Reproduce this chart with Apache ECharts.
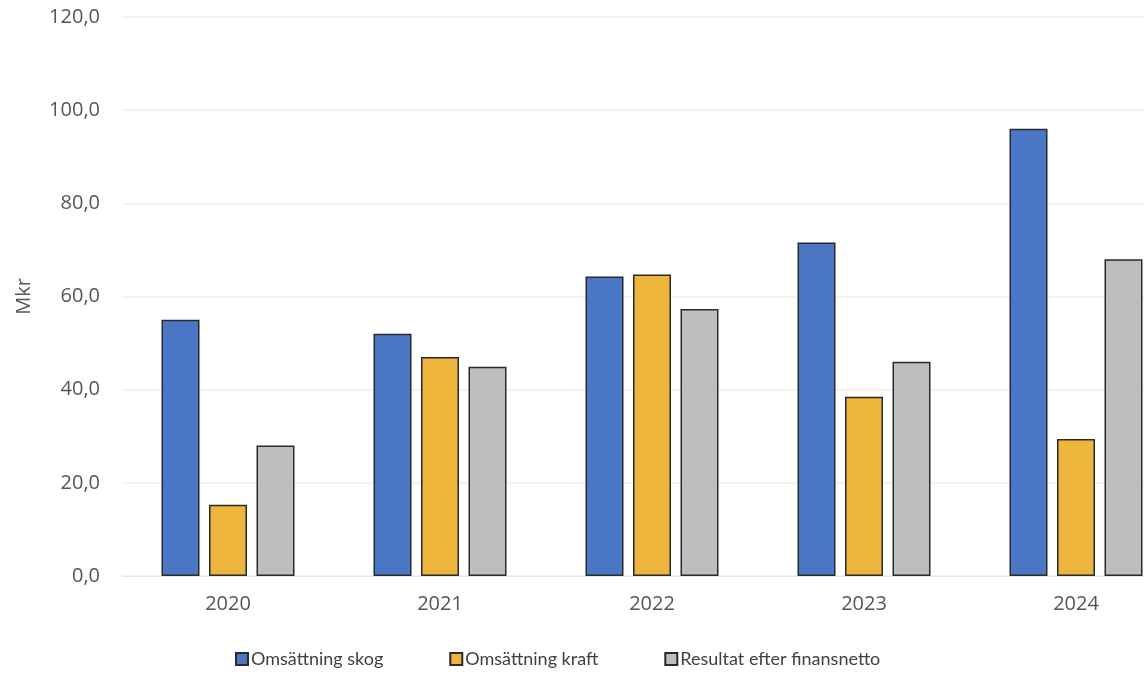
<!DOCTYPE html>
<html>
<head>
<meta charset="utf-8">
<script src="https://cdn.jsdelivr.net/npm/echarts@6/dist/echarts.min.js"></script>
<style>
html,body{margin:0;padding:0;background:#fff;}
#c{width:1144px;height:677px;}
</style>
</head>
<body>
<div id="c"></div>
<script>
const categories = ['2020', '2021', '2022', '2023', '2024'];
const omsattningSkog = [55.0, 52.0, 64.3, 71.6, 96.0];
const omsattningKraft = [15.3, 47.0, 64.7, 38.5, 29.4];
const resultatEfterFinansnetto = [28.0, 44.9, 57.3, 46.0, 68.0];
const seriesNames = ['Omsättning skog', 'Omsättning kraft', 'Resultat efter finansnetto'];
const yTicks = { min: 0, max: 120, interval: 20 };

const FONT = 'Lato, "Open Sans", sans-serif';
const AXFONT = '"Open Sans", sans-serif';
const chart = echarts.init(document.getElementById('c'), null, { renderer: 'canvas' });
const colors = ['#4A76C6', '#EDB53C', '#BEBEBE'];
const border = '#2a2a2a';
const data = [omsattningSkog, omsattningKraft, resultatEfterFinansnetto];

chart.setOption({
  animation: false,
  backgroundColor: '#ffffff',
  grid: { left: 122, top: 17, width: 1060, height: 559, containLabel: false, outerBoundsMode: 'none' },
  legend: {
    left: 230,
    top: 645,
    itemWidth: 12,
    itemHeight: 12,
    itemGap: 66,
    icon: 'rect',
    textStyle: { fontFamily: FONT, fontSize: 18, color: '#404040', padding: [0, 0, 0, -2] },
    data: seriesNames
  },
  xAxis: {
    type: 'category',
    data: categories,
    axisLine: { show: true, lineStyle: { color: '#e6e6e6', width: 1 } },
    axisTick: { show: false },
    axisLabel: { fontFamily: AXFONT, fontSize: 20, color: '#555555', margin: 18 }
  },
  yAxis: {
    type: 'value',
    min: yTicks.min,
    max: yTicks.max,
    interval: yTicks.interval,
    name: 'Mkr',
    nameLocation: 'middle',
    nameRotate: 90,
    nameGap: 88,
    nameTextStyle: { fontFamily: AXFONT, fontSize: 20, color: '#555555' },
    axisLine: { show: false },
    axisTick: { show: false },
    splitLine: { show: true, lineStyle: { color: '#efefef', width: 1.5 } },
    axisLabel: {
      fontFamily: AXFONT, fontSize: 20, color: '#555555', margin: 22,
      formatter: v => v.toFixed(1).replace('.', ',')
    }
  },
  series: data.map((d, i) => ({
    name: seriesNames[i],
    type: 'bar',
    data: d,
    barWidth: 38,
    barGap: '25%',
    itemStyle: { color: colors[i], borderColor: border, borderWidth: 1.5 }
  }))
});
</script>
</body>
</html>
